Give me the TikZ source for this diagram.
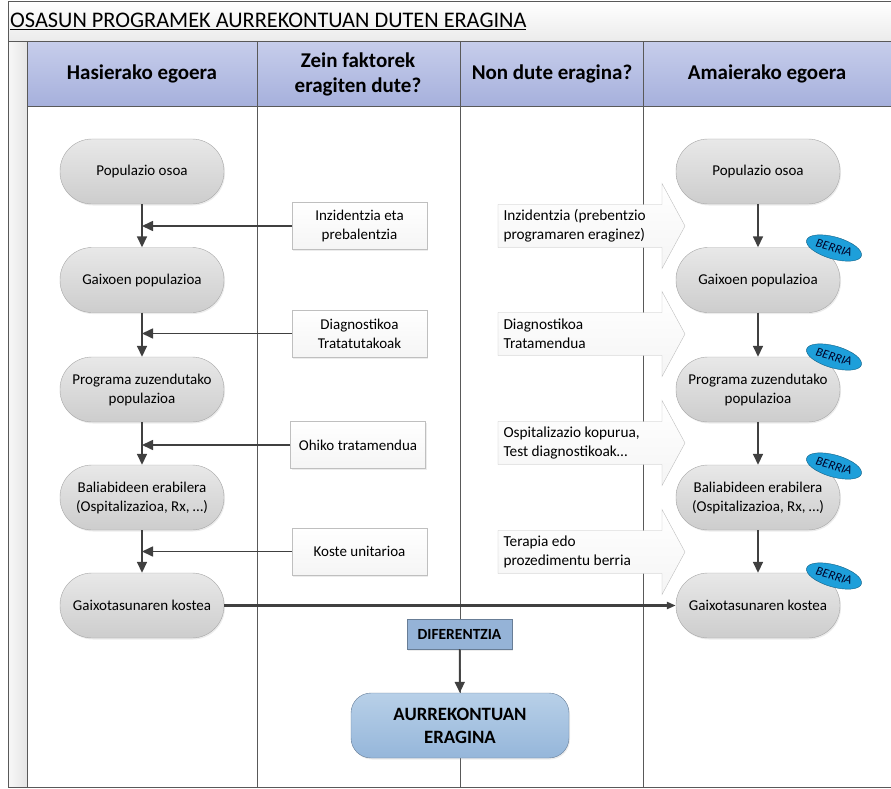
\documentclass[tikz,border=0pt]{standalone}
\usepackage{fontspec}
\setmainfont{Carlito}
\usetikzlibrary{positioning,shadows,shapes.geometric,arrows.meta}

\definecolor{hdrtop}{HTML}{C6CDEB}
\definecolor{hdrbot}{HTML}{A6B0DC}
\definecolor{stadtop}{HTML}{E8E8E8}
\definecolor{stadbot}{HTML}{CDCDCD}
\definecolor{linegrey}{HTML}{404040}
\definecolor{berriablue}{HTML}{1E9FDA}
\definecolor{difblue}{HTML}{95B3D7}
\definecolor{aurtop}{HTML}{B8D0E8}
\definecolor{aurbot}{HTML}{95B6DA}

\begin{document}
\begin{tikzpicture}[x=1pt,y=-1pt,
	stadium/.style={rectangle,rounded corners=32pt,minimum width=164pt,minimum height=65pt,
		draw=black!35,top color=stadtop,bottom color=stadbot,align=center,
		font=\fontsize{15}{19}\selectfont,drop shadow={opacity=0.15,shadow xshift=1pt,shadow yshift=-1.5pt}},
	factor/.style={rectangle,minimum width=135pt,minimum height=47pt,draw=black!25,
		top color=white,bottom color=black!4,align=center,
		font=\fontsize{15}{19}\selectfont,drop shadow={opacity=0.15,shadow xshift=1pt,shadow yshift=-1.5pt}},
	impact/.style={draw=black!25,top color=white,bottom color=black!4},
	impacttext/.style={anchor=west,align=left,font=\fontsize{15.3}{19}\selectfont},
	header/.style={align=center,font=\bfseries\fontsize{21}{25}\selectfont},
	berria/.style={ellipse,draw=berriablue!60!black,fill=berriablue,minimum width=57pt,minimum height=22pt,
		inner sep=0pt,rotate=-16,font=\itshape\fontsize{12.5}{13}\selectfont,text=black!85!blue},
	flow/.style={draw=linegrey,line width=1.6pt,-{Triangle[length=11pt,width=10pt]}},
	bigflow/.style={draw=linegrey,line width=3.5pt,-{Triangle[length=9pt,width=7pt]}},
	divider/.style={draw=black!65,line width=1pt}]

\useasboundingbox (0,0) rectangle (891,789);

% frame, title and header
\shade[top color=white,bottom color=black!8] (8,2) rectangle (891,42);
\shade[left color=black!3,right color=black!10] (8,42) rectangle (27,787);
\shade[top color=hdrtop,bottom color=hdrbot] (27,42) rectangle (891,107);
\draw[divider] (891,2) -- (8,2) -- (8,787) -- (891,787);
\draw[divider] (8,42) -- (891,42);
\draw[divider] (27,42) -- (27,787);
\draw[divider] (27,107) -- (891,107);
\draw[divider] (257,42) -- (257,787);
\draw[divider] (460,42) -- (460,787);
\draw[divider] (643,42) -- (643,787);

\node[anchor=west,font=\fontsize{22.3}{26}\selectfont,inner sep=0pt] (title) at (10,21) {\underline{OSASUN PROGRAMEK AURREKONTUAN DUTEN ERAGINA}};

\node[header] (h1) at (142,74) {Hasierako egoera};
\node[header] (h2) at (358,74) {Zein faktorek\\eragiten dute?};
\node[header] (h3) at (552,74) {Non dute eragina?};
\node[header] (h4) at (767,74) {Amaierako egoera};

% hasierako egoera
\node[stadium] (l1) at (142,171.5) {Populazio osoa};
\node[stadium] (l2) at (142,280) {Gaixoen populazioa};
\node[stadium] (l3) at (142,389.5) {Programa zuzendutako\\populazioa};
\node[stadium] (l4) at (142,497.5) {Baliabideen erabilera\\(Ospitalizazioa, Rx, \dots)};
\node[stadium] (l5) at (142,605.5) {Gaixotasunaren kostea};

% faktoreak
\node[factor] (f1) at (359.5,226) {Inzidentzia eta\\prebalentzia};
\node[factor] (f2) at (359.5,333.5) {Diagnostikoa\\Tratatutakoak};
\node[factor] (f3) at (358,445) {Ohiko tratamendua};
\node[factor] (f4) at (359.5,551.5) {Koste unitarioa};

\draw[flow] (l1) -- (l2);
\draw[flow] (l2) -- (l3);
\draw[flow] (l3) -- (l4);
\draw[flow] (l4) -- (l5);
\draw[flow] (f1.west) -- (f1.west -| l1.south);
\draw[flow] (f2.west) -- (f2.west -| l1.south);
\draw[flow] (f3.west) -- (f3.west -| l1.south);
\draw[flow] (f4.west) -- (f4.west -| l1.south);

% eragina
\foreach \c in {226,334,443,552}
	\draw[impact] (498,\c-21.5) -- (662,\c-21.5) -- (662,\c-42.5) -- (685,\c)
		-- (662,\c+42.5) -- (662,\c+21.5) -- (498,\c+21.5) -- cycle;
\node[impacttext] (e1) at (500,226) {Inzidentzia (prebentzio\\programaren eraginez)};
\node[impacttext] (e2) at (500,334) {Diagnostikoa\\Tratamendua};
\node[impacttext] (e3) at (500,443) {Ospitalizazio kopurua,\\Test diagnostikoak\dots};
\node[impacttext] (e4) at (500,552) {Terapia edo\\prozedimentu berria};

% amaierako egoera
\node[stadium] (r1) at (758,171.5) {Populazio osoa};
\node[stadium] (r2) at (758,280) {Gaixoen populazioa};
\node[stadium] (r3) at (758,389.5) {Programa zuzendutako\\populazioa};
\node[stadium] (r4) at (758,497.5) {Baliabideen erabilera\\(Ospitalizazioa, Rx, \dots)};
\node[stadium] (r5) at (758,605.5) {Gaixotasunaren kostea};

\draw[flow] (r1) -- (r2);
\draw[flow] (r2) -- (r3);
\draw[flow] (r3) -- (r4);
\draw[flow] (r4) -- (r5);

\node[berria] (b2) at (834,248) {BERRIA};
\node[berria] (b3) at (834,357) {BERRIA};
\node[berria] (b4) at (834,466) {BERRIA};
\node[berria] (b5) at (834,576) {BERRIA};

% diferentzia
\draw[bigflow] (l5) -- (r5);
\node[rectangle,draw=difblue!70!black,fill=difblue,minimum width=105pt,minimum height=30pt,inner sep=2pt,
	font=\bfseries\fontsize{15.5}{18}\selectfont,drop shadow={opacity=0.15,shadow xshift=1pt,shadow yshift=-1.5pt}] (dif) at (459.5,634) {DIFERENTZIA};
\node[rectangle,rounded corners=20pt,draw=aurbot!70!black,top color=aurtop,bottom color=aurbot,
	minimum width=218pt,minimum height=65pt,align=center,font=\bfseries\fontsize{18.8}{23}\selectfont,
	drop shadow={opacity=0.15,shadow xshift=1pt,shadow yshift=-1.5pt}] (aur) at (460,725.5) {AURREKONTUAN\\ERAGINA};
\draw[flow] (dif) -- (aur);

\end{tikzpicture}
\end{document}
